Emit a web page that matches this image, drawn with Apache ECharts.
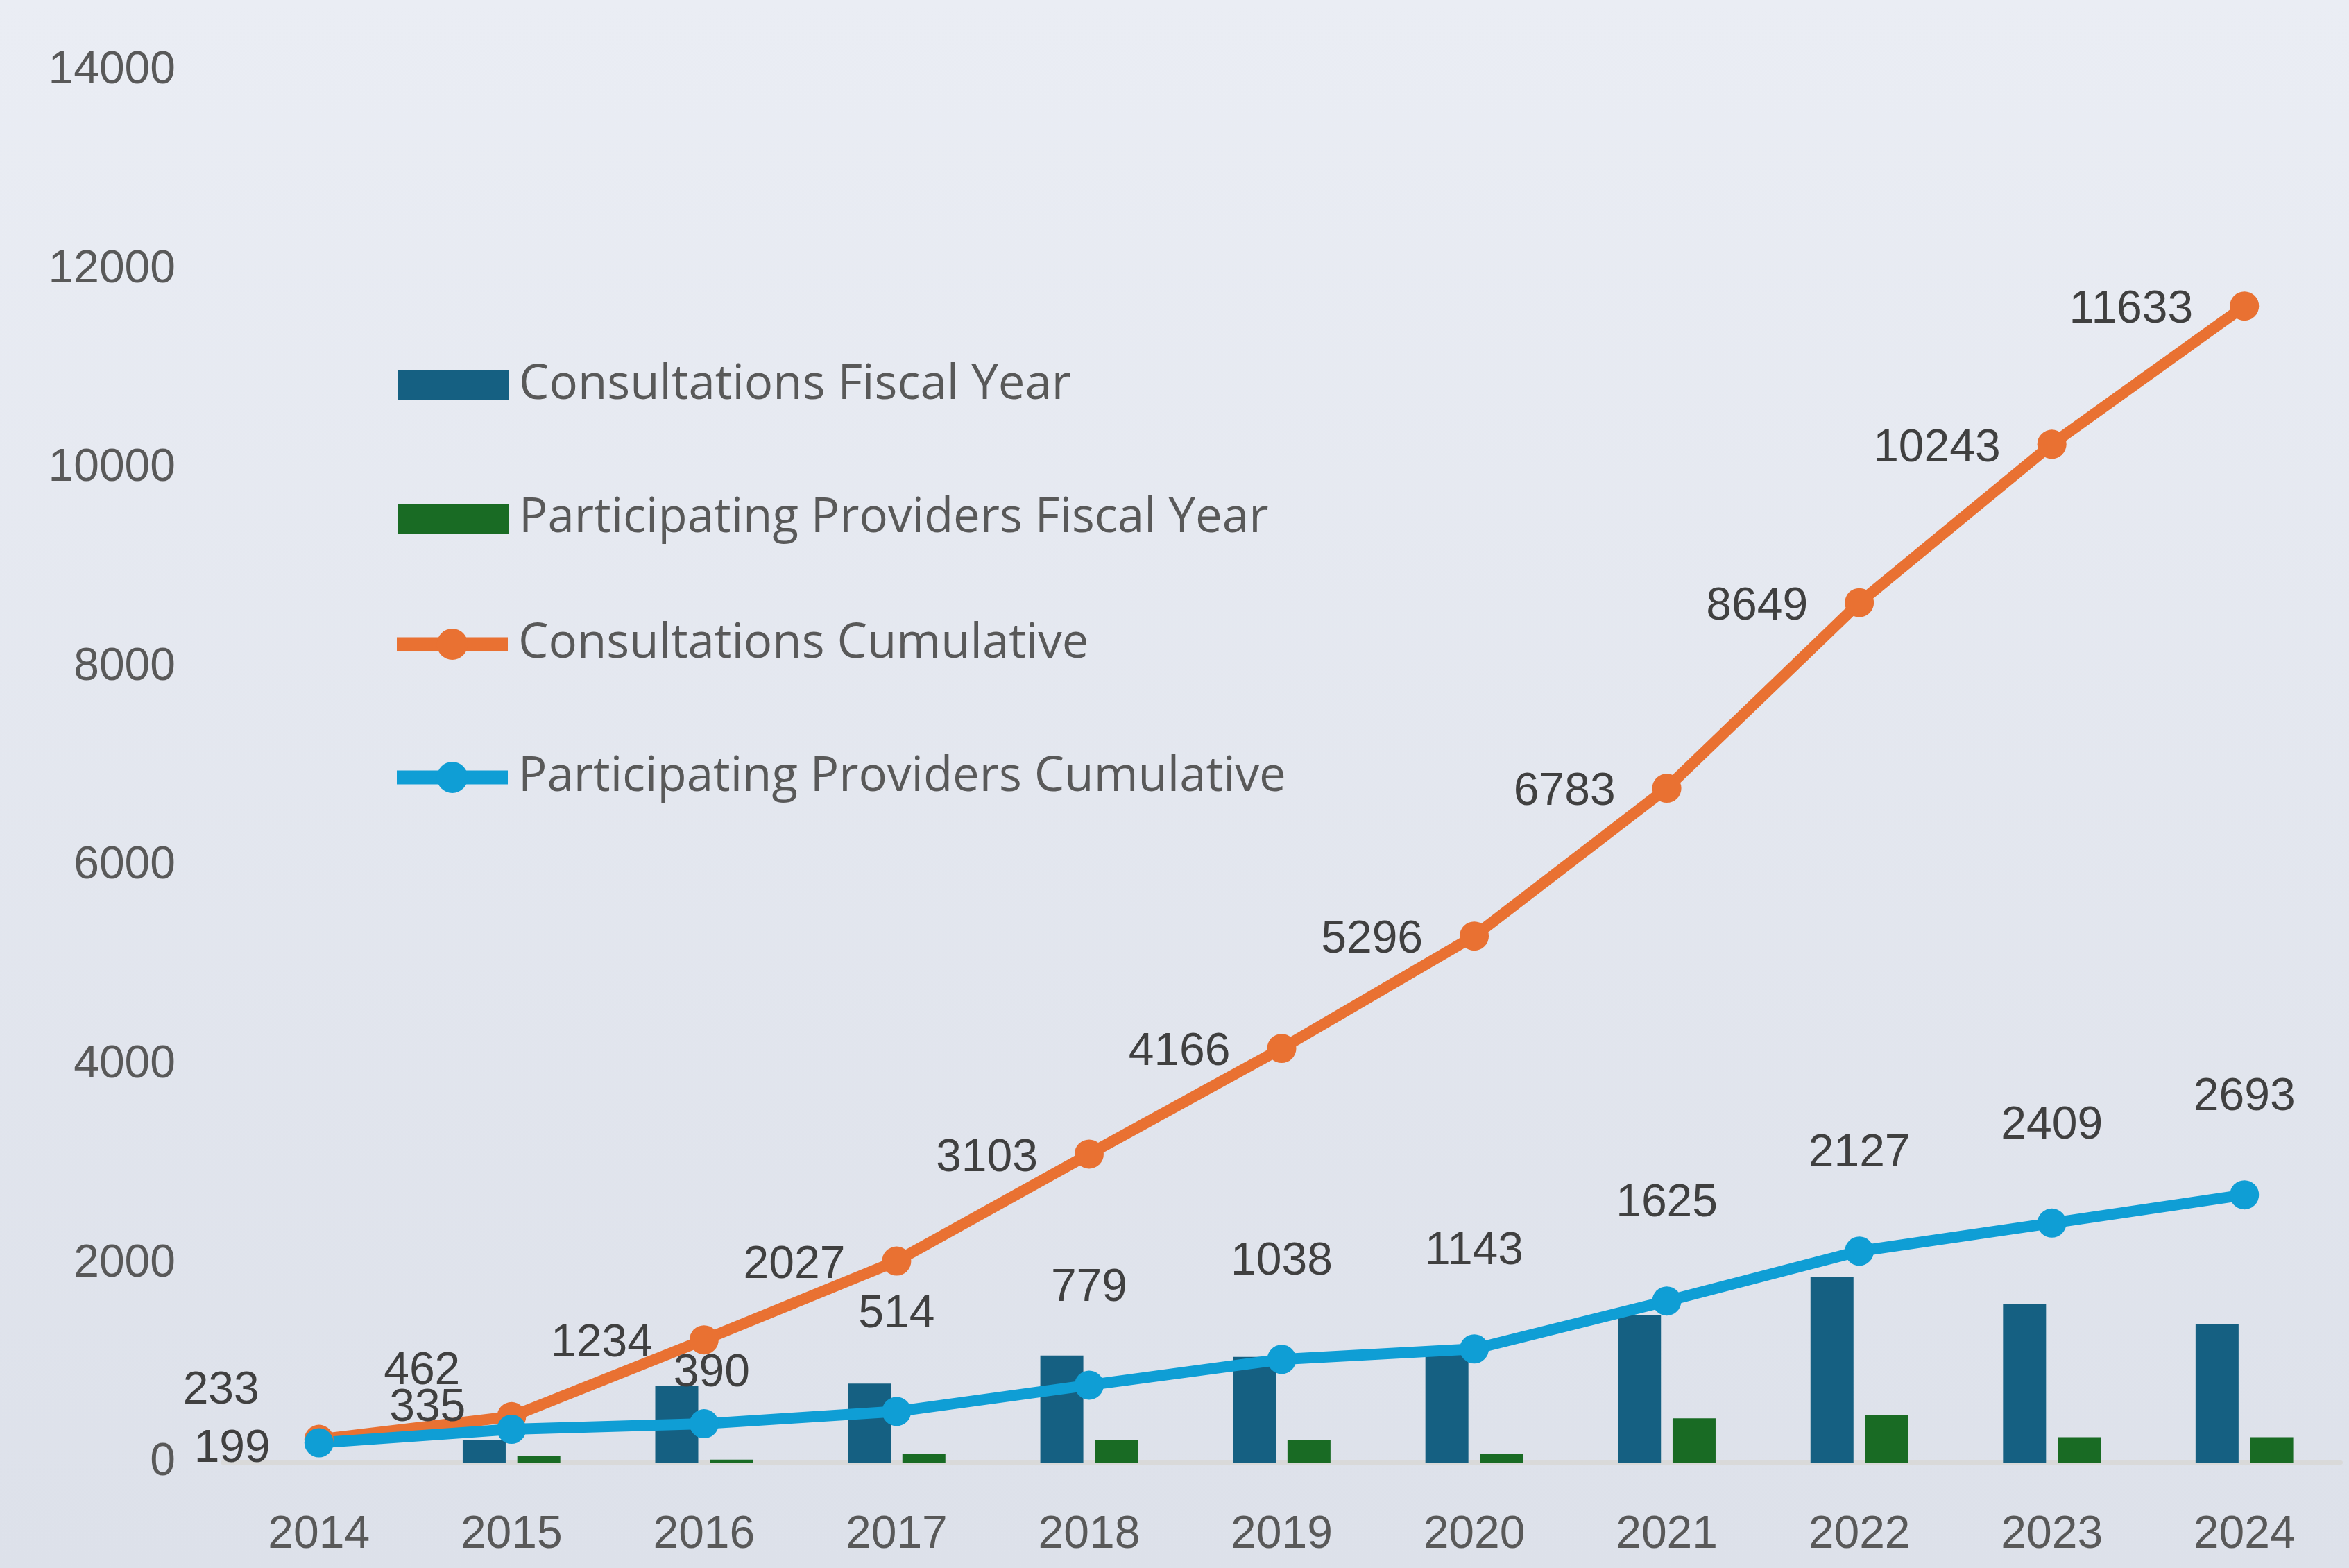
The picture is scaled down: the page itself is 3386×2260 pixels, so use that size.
<!DOCTYPE html>
<html>
<head>
<meta charset="utf-8">
<title>Consultations</title>
<script src="https://cdn.jsdelivr.net/npm/echarts@6/dist/echarts.min.js"></script>
<style>
html, body { margin: 0; padding: 0; }
#chart { width: 3386px; height: 2260px; }
</style>
</head>
<body>
<div id="chart"></div>
<script>
var years = ['2014', '2015', '2016', '2017', '2018', '2019', '2020', '2021', '2022', '2023', '2024'];
var consultFY = ['-', 229, 772, 793, 1076, 1063, 1130, 1487, 1866, 1594, 1390];
var providersFY = ['-', 70, 30, 90, 225, 225, 90, 445, 475, 255, 255];
var consultCum = [233, 462, 1234, 2027, 3103, 4166, 5296, 6783, 8649, 10243, 11633];
var providersCum = [199, 335, 390, 514, 779, 1038, 1143, 1625, 2127, 2409, 2693];

// labels that were moved by hand in the original
var consultLabelFix = {
    0: { offset: [-12, -70] },
    1: { offset: [0, -65] }
};
var providerLabelFix = {
    0: { position: 'left', distance: 53, offset: [4, 9] },
    1: { position: 'left', distance: 53, offset: [8, -30] },
    2: { offset: [11, 68] }
};

function with_labels(values, fix) {
    return values.map(function (v, i) {
        return fix[i] ? { value: v, label: fix[i] } : v;
    });
}

var numFont = '"Liberation Sans", Arial, sans-serif';
var labelStyle = { fontFamily: numFont, fontSize: 66, color: '#404040' };
var legendText = {
    fontFamily: '"Open Sans", sans-serif',
    fontSize: 69,
    color: '#595959',
    padding: [0, 0, 0, 10]
};

var myChart = echarts.init(document.getElementById('chart'));
myChart.setOption({
    backgroundColor: {
        type: 'linear', x: 0, y: 0, x2: 0, y2: 1,
        colorStops: [{ offset: 0, color: '#EAEDF4' }, { offset: 1, color: '#DDE1EA' }]
    },
    animation: false,
    grid: { left: 321, right: 12, top: 102, bottom: 152 },
    legend: [
        {
            orient: 'vertical',
            left: 568,
            top: 516,
            icon: 'rect',
            itemWidth: 160,
            itemHeight: 43,
            itemGap: 123,
            textStyle: legendText,
            data: ['Consultations Fiscal Year', 'Participating Providers Fiscal Year']
        },
        {
            orient: 'vertical',
            left: 557,
            top: 889,
            itemWidth: 160,
            itemHeight: 56,
            itemGap: 123,
            lineStyle: { width: 20 },
            textStyle: legendText,
            data: ['Consultations Cumulative', 'Participating Providers Cumulative']
        }
    ],
    xAxis: {
        type: 'category',
        data: years,
        axisLine: { lineStyle: { color: '#D9D9D9', width: 6 } },
        axisTick: { show: false },
        axisLabel: { margin: 72, fontFamily: numFont, fontSize: 66, color: '#595959' }
    },
    yAxis: {
        type: 'value',
        min: 0,
        max: 14000,
        interval: 2000,
        splitLine: { show: false },
        axisLine: { show: false },
        axisLabel: {
            margin: 68, fontFamily: numFont, fontSize: 66, color: '#595959',
            formatter: function (v) { return String(v); }
        }
    },
    series: [
        {
            name: 'Consultations Fiscal Year',
            type: 'bar',
            barWidth: 62,
            barGap: '27%',
            itemStyle: { color: '#156082' },
            data: consultFY
        },
        {
            name: 'Participating Providers Fiscal Year',
            type: 'bar',
            barWidth: 62,
            itemStyle: { color: '#196B24' },
            data: providersFY
        },
        {
            name: 'Consultations Cumulative',
            type: 'line',
            symbol: 'circle',
            symbolSize: 42,
            lineStyle: { color: '#E97132', width: 16 },
            itemStyle: { color: '#E97132' },
            label: Object.assign({ show: true, position: 'left', distance: 53, offset: [0, 6] }, labelStyle),
            data: with_labels(consultCum, consultLabelFix)
        },
        {
            name: 'Participating Providers Cumulative',
            type: 'line',
            symbol: 'circle',
            symbolSize: 42,
            lineStyle: { color: '#0F9ED5', width: 16 },
            itemStyle: { color: '#0F9ED5' },
            label: Object.assign({ show: true, position: 'top', distance: 86 }, labelStyle),
            data: with_labels(providersCum, providerLabelFix)
        }
    ]
});
</script>
</body>
</html>
